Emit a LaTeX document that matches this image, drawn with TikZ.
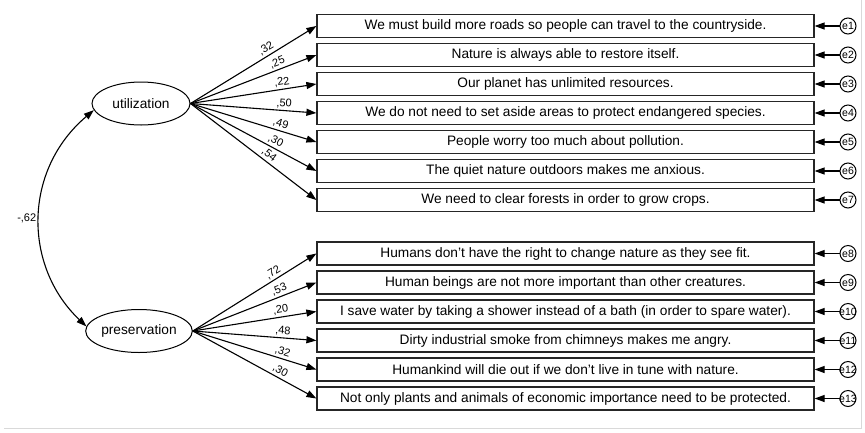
\documentclass[tikz,border=0pt]{standalone}
\usepackage{fontspec}
\setmainfont{Liberation Sans}
\usetikzlibrary{shapes.geometric,arrows.meta}

\begin{document}
\begin{tikzpicture}[x=1pt,y=-1pt,
  item/.style={draw=black!85, line width=1.2pt, minimum width=497pt, minimum height=23pt,
    inner sep=0pt, font=\fontsize{13.7}{15}\selectfont},
  latent/.style={ellipse, draw, line width=1pt, minimum width=98pt, minimum height=43pt,
    inner sep=0pt, font=\fontsize{13.7}{15}\selectfont},
  err/.style={circle, draw, line width=1pt, minimum size=16pt, inner sep=0pt,
    font=\fontsize{10.5}{12}\selectfont},
  arr/.style={-{Triangle[length=10pt,width=7pt]}, line width=1.1pt},
  coef/.style={font=\fontsize{11}{12}\selectfont, sloped, above, inner sep=2pt}
]
\useasboundingbox (0,0) rectangle (865,432);
\draw[black!15, line width=0.8pt] (4,428) -- (861,428) -- (861,0);

% latent factors
\node[latent] (u) at (141,103.5) {utilization};
\node[latent] (p) at (139,331) {preservation};

% observed items with their error terms
\foreach \i/\yy/\t in {
  1/26/{We must build more roads so people can travel to the countryside.},
  2/55/{Nature is always able to restore itself.},
  3/84/{Our planet has unlimited resources.},
  4/113/{We do not need to set aside areas to protect endangered species.},
  5/142/{People worry too much about pollution.},
  6/171/{The quiet nature outdoors makes me anxious.},
  7/200/{We need to clear forests in order to grow crops.},
  8/253.5/{Humans don't have the right to change nature as they see fit.},
  9/282.5/{Human beings are not more important than other creatures.},
  10/311.5/{I save water by taking a shower instead of a bath (in order to spare water).},
  11/340.5/{Dirty industrial smoke from chimneys makes me angry.},
  12/369.5/{Humankind will die out if we don't live in tune with nature.},
  13/398.5/{Not only plants and animals of economic importance need to be protected.}} {
  \node[item] (b\i) at (565.5,\yy) {\t};
  \node[err] (e\i) at (848,\yy) {\makebox[0pt]{e\i}};
  \draw[arr] (e\i) -- (b\i);
}

% factor loadings
\foreach \i/\c/\q in {1/{,32}/0.63,2/{,25}/0.71,3/{,22}/0.735,4/{,50}/0.74,
                      5/{,49}/0.70,6/{,30}/0.65,7/{,54}/0.59}
  \draw[arr] (u.east) -- node[coef, pos=\q] {\c} (b\i.west);
\foreach \i/\c/\q in {8/{,72}/0.68,9/{,53}/0.72,10/{,20}/0.72,11/{,48}/0.725,
                      12/{,32}/0.71,13/{,30}/0.68}
  \draw[arr] (p.east) -- node[coef, pos=\q] {\c} (b\i.west);

% factor covariance
\draw[{Triangle[length=10pt,width=7pt]}-{Triangle[length=10pt,width=7pt]}, line width=1.1pt]
  (u.188) .. controls (23,170) and (23,266) .. node[pos=0.5, left, inner sep=3pt,
  font=\fontsize{11}{12}\selectfont] {-,62} (p.175);
\end{tikzpicture}
\end{document}
